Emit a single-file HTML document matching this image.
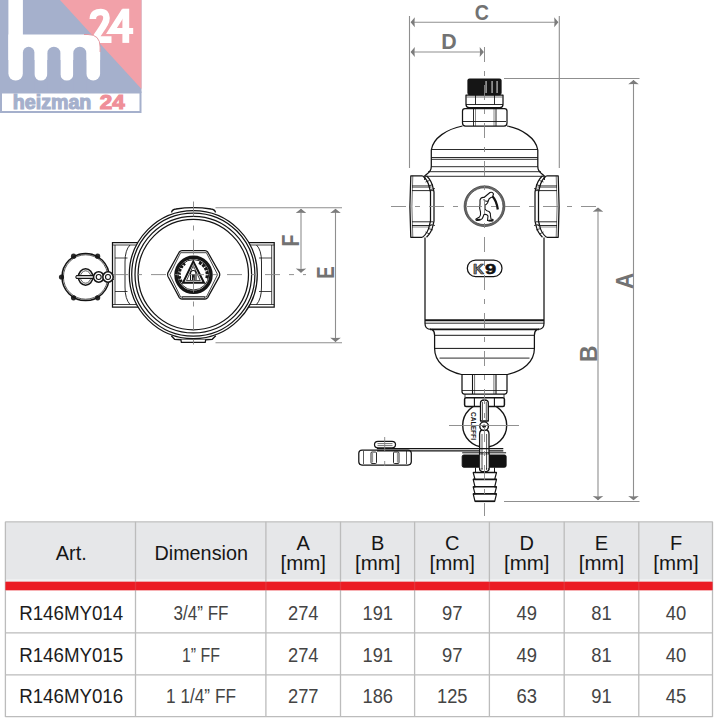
<!DOCTYPE html>
<html><head><meta charset="utf-8">
<style>
html,body{margin:0;padding:0;background:#fff;width:720px;height:720px;overflow:hidden;font-family:"Liberation Sans",sans-serif;}
#wrap{position:relative;width:720px;height:720px;}
svg{position:absolute;left:0;top:0;}
</style></head><body><div id="wrap">
<svg width="720" height="720" viewBox="0 0 720 720">
<g id="grid">
<rect x="5.3" y="522.3" width="707.4" height="57.4" fill="#e6e7e9"/>
<rect x="5.3" y="579.7" width="707.4" height="2.2" fill="#f1f1f2"/>
<rect x="5.3" y="581.8" width="707.4" height="8.4" fill="#eb1c24"/>
<g fill="none" stroke="#bcbcbc" stroke-width="1.3">
<path d="M5.3,521.8 H712.7"/>
<path d="M5.3,632.8 H712.7 M5.3,674.9 H712.7 M5.3,716.6 H712.7"/>
<path d="M5.4,521.8 V717 M135.5,521.8 V717 M265.9,521.8 V717 M340.5,521.8 V717 M414.6,521.8 V717 M489.4,521.8 V717 M564.2,521.8 V717 M638.8,521.8 V717 M712.5,521.8 V717"/>
</g>
<rect x="5.3" y="581.8" width="707.4" height="8.4" fill="#eb1c24" fill-opacity="0.85"/>
</g>

<g id="logo">
<rect x="0" y="0" width="141.5" height="93" fill="#a5b0cc"/>
<path d="M60,0 L141.5,0 L141.5,89 Z" fill="#f2a1a9"/>
<!-- 24 -->
<g fill="none" stroke="#fff" stroke-linejoin="miter" stroke-linecap="butt">
<path d="M92.8,19 C92.8,13.5 96.5,12 100.8,12 C104.8,12 106.5,14.5 106.5,18 C106.5,22.5 103.5,26 97,35.5 L95.2,39.6 H111.5" stroke-width="6.6"/>
<path d="M125.8,8.7 V42.9" stroke-width="6.8"/>
<path d="M124.5,10.5 L111.5,30.9 H133.2" stroke-width="6"/>
</g>
<!-- h stem -->
<rect x="8.4" y="-10" width="14.5" height="90.6" rx="7" fill="#fff"/>
<!-- m top band -->
<path d="M8.4,34.5 L88,34.5 Q100.1,34.5 100.1,47 L100.1,60 L8.4,60 Z" fill="#fff"/>
<rect x="34.4" y="40" width="13" height="40.6" rx="6.5" fill="#fff"/>
<rect x="60.4" y="40" width="12.9" height="40.6" rx="6.45" fill="#fff"/>
<rect x="86.3" y="40" width="13.8" height="40.6" rx="6.9" fill="#fff"/>
<!-- counters -->
<path d="M22.9,95 V52.45 A5.75,5.75 0 0 1 34.4,52.45 V95 Z" fill="#a5b0cc"/>
<path d="M47.4,95 V53.2 A6.5,6.5 0 0 1 60.4,53.2 V95 Z" fill="#a5b0cc"/>
<path d="M73.3,95 V53.2 A6.5,6.5 0 0 1 86.3,53.2 V95 Z" fill="#a5b0cc"/>
<path d="M84,34.5 L88,34.5 Q100.1,34.5 100.1,47 V52" fill="none" stroke="#e2909a" stroke-width="0.9"/>
<!-- band -->
<rect x="1" y="92.5" width="139.5" height="19.5" fill="#fff" stroke="#a5b0cc" stroke-width="2"/>
<text x="12.8" y="109.4" font-family="Liberation Sans" font-weight="bold" font-size="19.5" fill="#a5b0cc" stroke="#a5b0cc" stroke-width="1.1" textLength="78.5" lengthAdjust="spacingAndGlyphs">heizman</text>
<text x="99.8" y="109.4" font-family="Liberation Sans" font-weight="bold" font-size="19.5" fill="#ef8f99" stroke="#ef8f99" stroke-width="1.1" textLength="25" lengthAdjust="spacingAndGlyphs">24</text>
</g>

<g id="left" fill="none" stroke="#141414" stroke-width="1.25">
<!-- ports -->
<path d="M140,242.5 H112.5 V307 H140"/>
<path d="M115,245 V304.5 M112.5,245 H140 M112.5,304.5 H140" stroke-width="0.8"/>
<path d="M115,258 H127.5 M115,291.5 H127.5" stroke-width="0.8"/>
<path d="M130,245 Q125,250 125,262 V287 Q125,299 130,304.5" stroke-width="0.9"/>
<path d="M246.5,242.5 H274.2 V307 H246.5"/>
<path d="M271.7,245 V304.5 M274.2,245 H246.5 M274.2,304.5 H246.5" stroke-width="0.8"/>
<path d="M271.7,258 H259 M271.7,291.5 H259" stroke-width="0.8"/>
<path d="M256.5,245 Q261.5,250 261.5,262 V287 Q261.5,299 256.5,304.5" stroke-width="0.9"/>
<!-- main circle -->
<circle cx="193.3" cy="274.6" r="64" fill="#fff"/>
<circle cx="193.3" cy="274.6" r="61.6"/>
<circle cx="193.3" cy="274.6" r="58.3"/>
<circle cx="193.3" cy="274.6" r="55.2"/>
<!-- tabs -->
<path d="M171.5,212.5 Q172,209.5 176,209 Q193.3,206.3 211,209 Q215,209.5 215.5,212.5" stroke-width="1.35"/>
<path d="M171.3,335.8 L174.6,339.3 L180.9,339.8 L181.4,342.3 H205.2 L205.7,339.8 L212.2,339.3 L215.8,335.8" stroke-width="1.3"/>
<path d="M175.5,339.3 H211.5" stroke-width="0.7"/>
<!-- hex -->
<path d="M168,272.6 L179.3,252 Q180.4,250.6 182,250.6 H205 Q206.6,250.6 207.7,252 L219.3,272.6 Q220.2,274.6 219.3,276.6 L207.7,297.6 Q206.6,299 205,299 H182 Q180.4,299 179.3,297.6 L168,276.6 Q167.2,274.6 168,272.6 Z" fill="#fff"/>
<path d="M169.8,274.6 L180.6,252.7 H206.4 L217.6,274.6 L206.4,297 H180.6 Z" stroke-width="0.8"/>
<path d="M182.5,296.5 H204.5 V298.5 H182.5 Z" stroke-width="0.6" fill="#aaa"/>
<circle cx="193.5" cy="274.8" r="17.5" stroke-width="3.5"/>
<circle cx="193.5" cy="274.8" r="15.2" stroke-width="0.9"/>
<path d="M181.5,282 A13.3,13.3 0 0 1 185,263.5" stroke-width="3" stroke-dasharray="2.6 1.1"/>
<path d="M199,262.5 A13.3,13.3 0 0 1 206.5,279" stroke-width="3" stroke-dasharray="3 1"/>
<path d="M193.3,261.4 L183,282.7 H204 Z" stroke-width="2"/>
<path d="M193.3,265.5 L186.5,280.6 H200.3 Z" stroke-width="0.8"/>
<path d="M190.5,280 V274 Q190.5,270.5 193.3,270.5 Q196,270.5 196,274 V280" stroke-width="1.1"/>
<rect x="192" y="274" width="2.8" height="6" fill="#1e1e1e" stroke="none"/>
<!-- cap on chain -->
<g stroke-width="1.2">
<circle cx="97.65" cy="256.13" r="2.6" fill="#2a2a2a" stroke="none"/>
<circle cx="73.55" cy="256.13" r="2.6" fill="#2a2a2a" stroke="none"/>
<circle cx="61.50" cy="277.00" r="2.6" fill="#2a2a2a" stroke="none"/>
<circle cx="73.55" cy="297.87" r="2.6" fill="#2a2a2a" stroke="none"/>
<circle cx="97.65" cy="297.87" r="2.6" fill="#2a2a2a" stroke="none"/>
<circle cx="85.6" cy="277" r="23.6" stroke-width="1.5"/>
<circle cx="85.6" cy="277" r="22.2" stroke-width="0.7"/>
<ellipse cx="85.6" cy="277" rx="7.2" ry="8.2" stroke-width="1.6"/>
<ellipse cx="85.6" cy="277" rx="5.2" ry="6.2" stroke-width="0.7"/>
<path d="M76.6,275.6 H94.5 Q96,277 94.5,278.4 H76.6 Q75.1,277 76.6,275.6 Z" fill="#fff" stroke-width="1.1"/>
<circle cx="98.7" cy="277" r="5.2" fill="#fff" stroke-width="1.6"/>
<circle cx="98.7" cy="277" r="2.5" stroke-width="1.1"/>
<circle cx="108" cy="277" r="5.2" fill="#fff" stroke-width="1.6"/>
<circle cx="108" cy="277" r="2.5" stroke-width="1.1"/>
<path d="M112.5,274.5 H114 M112.5,279.5 H114" stroke-width="0.8"/>
</g>
</g>

<g id="right" fill="none" stroke="#141414" stroke-width="1.25" stroke-linejoin="round">
<!-- top cap -->
<rect x="468" y="79" width="33" height="15.5" rx="1.5" fill="#151515" stroke="#151515"/>
<rect x="485.3" y="81" width="1.6" height="12" fill="#9a9a9a" stroke="none"/>
<rect x="491.3" y="81" width="1.6" height="12" fill="#9a9a9a" stroke="none"/>
<rect x="496.3" y="81" width="1.6" height="12" fill="#9a9a9a" stroke="none"/>
<!-- upper nut -->
<path d="M466,95 H503 V104.5 Q503,107.5 500,107.5 H469 Q466,107.5 466,104.5 Z"/>
<path d="M475.5,95 V104.5 M494.5,95 V104.5 M466,104.5 H503" stroke-width="0.9"/>
<path d="M466.5,97 H502.5" stroke-width="0.6"/>
<!-- lower nut -->
<path d="M462.5,111 Q462.5,108.5 465,108.5 H504.5 Q507,108.5 507,111 V123 Q507,126 504,126 H465.5 Q462.5,126 462.5,123 Z"/>
<path d="M473.5,108.5 V126 M496,108.5 V126 M463,121.5 H506" stroke-width="0.9"/>
<path d="M475.5,108.5 V126 M494,108.5 V126" stroke-width="0.5"/>
<!-- dome -->
<path d="M462.5,126 C447,129 433,138 431.3,150 L431.3,166.5 Q431.3,171 427,174 L424.5,176"/>
<path d="M507,126 C522,129 536,138 537.8,150 L537.8,166.5 Q537.8,171 542,174 L544.5,176"/>
<path d="M431.3,149.5 H537.8 M431.3,157.5 H537.8 M431.3,159.3 H537.8 M431.3,166.7 H537.8 M428,171.7 H541 M424.5,176.3 H544.5" stroke-width="0.9"/>
<!-- left port -->
<path d="M422.5,175.8 H410.8 Q409,206.5 410.8,237.3 H422.5"/>
<path d="M412.8,175.8 Q411,206.5 412.8,237.3" stroke-width="0.6"/>
<path d="M422.5,175.8 Q428,180 429.5,188 L430.5,192 V221 L429.5,225 Q428,233 422.5,237.3"/>
<path d="M426.5,175.8 Q432,181 433.3,189 L434,192 V221 L433.3,224 Q432,232 426.5,237.3"/>
<path d="M425.5,182 L429.5,180.5 M428.5,186 L433,184.5 M430.5,189.5 L435,188.5 M430.5,224.5 L435,225.5 M428.5,228.5 L433,230 M425.5,232 L429.5,234" stroke-width="0.8"/>
<path d="M412,187 H431.5 M412,190.6 H433 M412,221.8 H433 M412,225.5 H431.5" stroke-width="0.9"/>
<path d="M412,185.5 H430.5 M412,227 H430.5" stroke-width="0.5"/>
<!-- right port -->
<path d="M546.5,175.8 H558.2 Q560,206.5 558.2,237.3 H546.5"/>
<path d="M556.2,175.8 Q558,206.5 556.2,237.3" stroke-width="0.6"/>
<path d="M546.5,175.8 Q541,180 539.5,188 L538.5,192 V221 L539.5,225 Q541,233 546.5,237.3"/>
<path d="M542.5,175.8 Q537,181 535.7,189 L535,192 V221 L535.7,224 Q537,232 542.5,237.3"/>
<path d="M543.5,182 L539.5,180.5 M540.5,186 L536,184.5 M538.5,189.5 L534,188.5 M538.5,224.5 L534,225.5 M540.5,228.5 L536,230 M543.5,232 L539.5,234" stroke-width="0.8"/>
<path d="M557,187 H537.5 M557,190.6 H536 M557,221.8 H536 M557,225.5 H537.5" stroke-width="0.9"/>

<path d="M557,185.5 H538.5 M557,227 H538.5" stroke-width="0.5"/>
<!-- body sides -->
<path d="M424.8,176.3 V180 M544.3,176.3 V180" />
<path d="M425,237.5 V323.5 Q425,329.4 431,329.4 M544,237.5 V323.5 Q544,329.4 538,329.4"/>
<path d="M425,320.2 H544" stroke-width="2.1"/>
<path d="M425,323.2 H544" stroke-width="0.9"/>
<path d="M430,329.4 H539" stroke-width="1.8"/>
<!-- bowl -->
<path d="M432,329.4 Q434.6,331 434.6,335.3 V348.5 C434.6,362 446,371 461.5,374.5 M537,329.4 Q534.4,331 534.4,335.3 V348.5 C534.4,362 523,371 507.5,374.5"/>
<path d="M434.6,335.3 H534.4 M434.6,348.4 H534.4" stroke-width="1"/>
<path d="M439.5,358.1 H529.5" stroke-width="0.9"/>
<path d="M461,374.5 H508" stroke-width="1"/>
<!-- bottom nut -->
<path d="M462,374.5 V391.5 Q462,394 464.5,394 H504.5 Q507,394 507,391.5 V374.5"/>
<path d="M472.5,374.5 V394 M496,374.5 V394" stroke-width="1.1"/>
<path d="M474.6,374.5 V394 M493.9,374.5 V394" stroke-width="0.6"/>
<path d="M462,390.5 H507" stroke-width="0.8"/>
<!-- small nut -->
<circle cx="484.7" cy="425.3" r="22" fill="#fff" stroke-width="1.4"/>
<path d="M465,394 V397.5 M504,394 V397.5" stroke-width="0.8"/>
<rect x="464.6" y="397.8" width="39.8" height="8.8" rx="1.5" fill="#fff" stroke-width="1.5"/>
<path d="M474.4,397.8 V406.6 M494.4,397.8 V406.6" stroke-width="1.1"/>
<!-- valve ball text -->
<g fill="#1a1a1a" stroke="none" font-family="Liberation Sans" font-weight="bold" font-size="8">
<text transform="translate(471.3,426) rotate(90)" text-anchor="middle" textLength="28" lengthAdjust="spacingAndGlyphs">CALEFFI</text>
</g>
<!-- lever -->
<path d="M480.5,403 Q480.5,400 484.4,400 Q488.3,400 488.3,403 V421 H480.5 Z" fill="#fff" stroke-width="1.3"/>
<path d="M482.5,402 V420 M486.3,402 V420" stroke-width="0.7"/>
<path d="M479.6,434 Q479.6,429.5 484.3,429.5 Q489,429.5 489,434 V469 Q489,471.7 484.3,471.7 Q479.6,471.7 479.6,469 Z" fill="#fff" stroke-width="1.3"/>
<path d="M482,434 V469 M486.6,434 V469" stroke-width="0.7"/>
<circle cx="484.1" cy="426.2" r="4.3" fill="#fff" stroke-width="1.4"/>
<circle cx="484.1" cy="426.2" r="1.8" fill="#1a1a1a" stroke="none"/>
<!-- strap -->
<path d="M377,448.6 H503.3 M377,450.8 H479.6 M489,450.8 H503.3" stroke-width="1.3"/>
<!-- black ring -->
<path d="M462.2,452.8 H506.1" stroke-width="1"/>
<rect x="462.2" y="455" width="43.9" height="12.2" rx="1.5" fill="#121212" stroke="#121212" stroke-width="1"/>
<path d="M479.6,454.5 H489 V468 H479.6 Z" fill="#fff" stroke="none"/>
<path d="M479.6,452.8 V470 M489,452.8 V470 M482,452.8 V470 M486.6,452.8 V470" stroke-width="0.8"/>
<!-- hose barb -->
<path d="M475.5,467.5 V472.5 M494.5,467.5 V472.5" stroke-width="1"/>
<path d="M473.2,472.5 L475,479.4 L473.2,479.4 L475,486.8 L473.2,486.8 L475,493.9 L473.2,493.9 L475,501.3 H494.7 L496.5,493.9 L494.7,493.9 L496.5,486.8 L494.7,486.8 L496.5,479.4 L494.7,479.4 L496.5,472.5 Z" fill="#fff" stroke-width="1.2"/>
<path d="M473.2,472.5 H496.5 M473.2,479.4 H496.5 M473.2,486.8 H496.5 M473.2,493.9 H496.5" stroke-width="1.6"/>
<path d="M475,501.3 H494.7" stroke-width="1.6"/>
<!-- cap on strap -->
<path d="M362,450 H408 Q411,450 411.3,453 L411.3,462 Q411,465 408,465 H362 Q359,465 358.8,462 L358.8,453 Q359,450 362,450 Z"/>
<path d="M363.5,451 V464 M406.5,451 V464" stroke-width="0.7"/>
<rect x="371" y="452" width="5.5" height="11.5" rx="1" stroke-width="0.9"/>
<rect x="393.5" y="452" width="5.5" height="11.5" rx="1" stroke-width="0.9"/>
<path d="M372.6,453 V462.5 M397.4,453 V462.5" stroke-width="0.5"/>
<path d="M378,441.3 H392 Q395.5,441.3 395.5,444.5 Q395.5,447.8 392,447.8 H378 Q374.5,447.8 374.5,444.5 Q374.5,441.3 378,441.3 Z"/>
<path d="M377.5,443.6 H392.5 M377.5,445.6 H392.5" stroke-width="0.6"/>
<!-- logo circle -->
<circle cx="484.5" cy="206.2" r="19.4" stroke="#6a6a6a" stroke-width="1.8"/>
<circle cx="484.5" cy="206.2" r="20.4" stroke-width="0.6"/>
<circle cx="484.5" cy="206.2" r="18.4" stroke-width="0.6"/>
<path d="M480,200 Q481,197 484,197.5 L490,192.5 Q492.5,191.5 493.5,194 L492.5,197 Q491,197 489,199 L487.5,203 Q486,205 485,205 L485,209 Q486,211 489,211.5 Q491,213 490.5,216 L491,219 L493,219.5 Q493.5,220.5 492,221 L487.5,220.5 L488,216 Q487,214 484,214.5 L483,217 Q482.5,219 481,219.5 L477,220.5 Q475.5,220 476,219 L479.5,217 Q481,215 480.5,212 Q479,208 480,204 Z" fill="#fff" stroke-width="1.1"/>
<path d="M483.5,199.5 Q485.5,202 488,201" stroke-width="1.1"/>
<path d="M492.6,196.5 Q496.5,200.5 497.8,209.5" stroke-width="2.3"/>
<path d="M476.5,220 L480.5,219.6 M488.5,220.6 L492.5,220.3" stroke-width="1.8"/>
<!-- K9 -->
<rect x="467.3" y="260" width="34.7" height="16.6" rx="8.3"/>
<text x="478.6" y="273.8" font-family="Liberation Sans" font-weight="bold" font-size="15" fill="#8a8a8a" stroke="#1a1a1a" stroke-width="0.7" text-anchor="middle" textLength="11" lengthAdjust="spacingAndGlyphs">K</text>
<text x="490.6" y="273.8" font-family="Liberation Sans" font-weight="bold" font-size="15" fill="#111" stroke="#111" stroke-width="0.5" text-anchor="middle" textLength="11.2" lengthAdjust="spacingAndGlyphs">9</text>
</g>

<g id="dims" fill="none" stroke="#8f8f8f" stroke-width="1.1">
<!-- C -->
<path d="M409.5,16 V168 M559.3,16 V168"/>
<path d="M411,22.3 H558"/>
<!-- D -->
<path d="M411,52 H483"/>
<!-- A -->
<path d="M504,78.5 H639.5 M504,501.5 H639.5"/>
<path d="M633.5,80 V500"/>
<!-- B -->
<path d="M598,208 V500"/>
<!-- left view ext -->
<path d="M215.5,207.7 H342 M215.5,342.8 H342"/>
<path d="M301,209 V272.5 M335.5,209 V342"/>
<g fill="#7c7c7c" stroke="none">
<path d="M410.6,22.3 l4.2,-5 l-0.3,5 l0.3,5 z"/>
<path d="M558.4,22.3 l-4.2,-5 l0.3,5 l-0.3,5 z"/>
<path d="M410.6,52 l4.2,-5 l-0.3,5 l0.3,5 z"/>
<path d="M483.9,52 l-4.2,-5 l0.3,5 l-0.3,5 z"/>
<path d="M633.5,80 l-5.3,4.2 l5.3,-0.3 l5.3,0.3 z"/>
<path d="M633.5,500.3 l-5.3,-4.2 l5.3,0.3 l5.3,-0.3 z"/>
<path d="M598,207.6 l-5.3,4.2 l5.3,-0.3 l5.3,0.3 z"/>
<path d="M598,500.3 l-5.3,-4.2 l5.3,0.3 l5.3,-0.3 z"/>
<path d="M301,208.8 l-5.3,4.2 l5.3,-0.3 l5.3,0.3 z"/>
<path d="M301,272.8 l-5.3,-4.2 l5.3,0.3 l5.3,-0.3 z"/>
<path d="M335.5,208.8 l-5.3,4.2 l5.3,-0.3 l5.3,0.3 z"/>
<path d="M335.5,342 l-5.3,-4.2 l5.3,0.3 l5.3,-0.3 z"/>
</g>
<g fill="#727272" stroke="none" font-family="Liberation Sans" font-weight="bold" font-size="22.5" text-anchor="middle">
<text transform="translate(481.9,20.2) scale(0.87,1)">C</text>
<text transform="translate(448.9,49.3) scale(0.95,1)">D</text>
<text transform="translate(632.6,281) rotate(-90) scale(0.95,1)" font-size="23.5">A</text>
<text transform="translate(597,353.8) rotate(-90) scale(1.0,1)" font-size="23">B</text>
<text transform="translate(299.4,240.5) rotate(-90) scale(0.8,1)" font-size="24.5">F</text>
<text transform="translate(333.7,272.4) rotate(-90) scale(0.78,1)" font-size="24">E</text>
</g>
</g>
<g id="centers" fill="none" stroke="#858585" stroke-width="0.9" stroke-dasharray="15 9 5 9">
<path d="M484.5,47 V516"/>
<path d="M391,206.5 H604"/>
<path d="M449,425.5 H519" stroke-dasharray="none"/>
<path d="M384.7,437 V471"/>
<path d="M193.5,201.5 V352"/>
<path d="M113,274.6 H306"/>
</g>

<g font-family="Liberation Sans" font-size="20" fill="#161616" text-anchor="middle">
<text x="71.25" y="560" textLength="31" lengthAdjust="spacingAndGlyphs">Art.</text>
<text x="201.2" y="559.8" textLength="93.5" lengthAdjust="spacingAndGlyphs">Dimension</text>
<text x="303.25" y="549.5">A</text>
<text x="303.25" y="570.3" textLength="45.5" lengthAdjust="spacingAndGlyphs">[mm]</text>
<text x="377.75" y="549.5">B</text>
<text x="377.75" y="570.3" textLength="45.5" lengthAdjust="spacingAndGlyphs">[mm]</text>
<text x="452.25" y="549.5">C</text>
<text x="452.25" y="570.3" textLength="45.5" lengthAdjust="spacingAndGlyphs">[mm]</text>
<text x="526.75" y="549.5">D</text>
<text x="526.75" y="570.3" textLength="45.5" lengthAdjust="spacingAndGlyphs">[mm]</text>
<text x="601.5" y="549.5">E</text>
<text x="601.5" y="570.3" textLength="45.5" lengthAdjust="spacingAndGlyphs">[mm]</text>
<text x="676" y="549.5">F</text>
<text x="676" y="570.3" textLength="45.5" lengthAdjust="spacingAndGlyphs">[mm]</text>
</g>
<g font-family="Liberation Sans" font-size="20" fill="#1c1c1c" text-anchor="middle">
<text x="71.2" y="619.7" textLength="104" lengthAdjust="spacingAndGlyphs">R146MY014</text>
<text x="71.2" y="661.7" textLength="104" lengthAdjust="spacingAndGlyphs">R146MY015</text>
<text x="71.2" y="703.3" textLength="104" lengthAdjust="spacingAndGlyphs">R146MY016</text>
</g>
<g font-family="Liberation Sans" font-size="20" fill="#444" text-anchor="middle">
<text x="201" y="619.7" textLength="55" lengthAdjust="spacingAndGlyphs">3/4” FF</text>
<text x="303.25" y="619.7" textLength="30.5" lengthAdjust="spacingAndGlyphs">274</text>
<text x="377.75" y="619.7" textLength="30.5" lengthAdjust="spacingAndGlyphs">191</text>
<text x="452.25" y="619.7" textLength="20.5" lengthAdjust="spacingAndGlyphs">97</text>
<text x="526.75" y="619.7" textLength="20.5" lengthAdjust="spacingAndGlyphs">49</text>
<text x="601.5" y="619.7" textLength="20.5" lengthAdjust="spacingAndGlyphs">81</text>
<text x="676" y="619.7" textLength="20.5" lengthAdjust="spacingAndGlyphs">40</text>
<text x="201" y="661.7" textLength="38" lengthAdjust="spacingAndGlyphs">1” FF</text>
<text x="303.25" y="661.7" textLength="30.5" lengthAdjust="spacingAndGlyphs">274</text>
<text x="377.75" y="661.7" textLength="30.5" lengthAdjust="spacingAndGlyphs">191</text>
<text x="452.25" y="661.7" textLength="20.5" lengthAdjust="spacingAndGlyphs">97</text>
<text x="526.75" y="661.7" textLength="20.5" lengthAdjust="spacingAndGlyphs">49</text>
<text x="601.5" y="661.7" textLength="20.5" lengthAdjust="spacingAndGlyphs">81</text>
<text x="676" y="661.7" textLength="20.5" lengthAdjust="spacingAndGlyphs">40</text>
<text x="201" y="703.3" textLength="70" lengthAdjust="spacingAndGlyphs">1 1/4” FF</text>
<text x="303.25" y="703.3" textLength="30.5" lengthAdjust="spacingAndGlyphs">277</text>
<text x="377.75" y="703.3" textLength="30.5" lengthAdjust="spacingAndGlyphs">186</text>
<text x="452.25" y="703.3" textLength="30.5" lengthAdjust="spacingAndGlyphs">125</text>
<text x="526.75" y="703.3" textLength="20.5" lengthAdjust="spacingAndGlyphs">63</text>
<text x="601.5" y="703.3" textLength="20.5" lengthAdjust="spacingAndGlyphs">91</text>
<text x="676" y="703.3" textLength="20.5" lengthAdjust="spacingAndGlyphs">45</text>
</g>
</svg>
</div></body></html>
